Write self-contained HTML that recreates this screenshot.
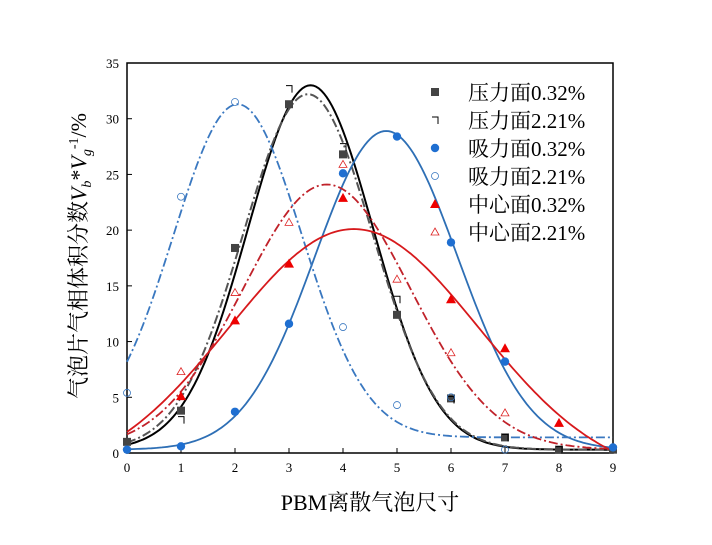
<!DOCTYPE html>
<html><head><meta charset="utf-8"><style>
body{margin:0;background:#fff;}
svg{display:block;font-family:"Liberation Serif","Noto Serif CJK SC",serif;}
</style></head><body>
<svg id="c" width="712" height="545"></svg>
<script>
const xTicks=[0,1,2,3,4,5,6,7,8,9];
const yTicks=[0,5,10,15,20,25,30,35];
const seriesNames=["压力面0.32%","压力面2.21%","吸力面0.32%","吸力面2.21%","中心面0.32%","中心面2.21%"];
const pX=[0,1,2,3,4,5,6,7,8,9];
const p032=[1.0,3.8,18.4,31.3,26.8,12.4,4.9,1.4,0.3,0.3];
const p221=[null,3.0,null,32.7,27.5,13.8,4.8,1.4,0.3,null];
const s032=[0.3,0.6,3.7,11.6,25.1,28.4,18.9,8.2,null,0.5];
const s221=[5.4,23.0,31.5,null,11.3,4.3,5.0,0.3,null,null];
const c032=[null,5.1,11.9,17.0,22.9,null,13.8,9.4,2.7,null];
const c221=[null,7.3,14.4,20.7,25.9,15.6,9.0,3.6,null,null];
// fit params: baseline, amplitude, center, width
const fitP032=[0.3,32.7,3.4,1.16];
const fitP221=[0.3,31.9,3.35,1.2];
const fitS032=[0.3,28.6,4.8,1.32];
const fitS221=[1.4,29.9,2.05,1.19];
const fitC032=[-2.5,22.6,4.2,2.32];
const fitC221=[0.3,23.8,3.7,1.55];

const NS="http://www.w3.org/2000/svg";
const svg=document.getElementById('c');
const L=127,R=613,T=63,B=453;
const xs=v=>L+(v-0)/9*(R-L);
const ys=v=>B-(v/35)*(B-T);
function el(t,a,p){const e=document.createElementNS(NS,t);for(const k in a)e.setAttribute(k,a[k]);(p||svg).appendChild(e);return e;}

const frame=el('rect',{x:L,y:T,width:R-L,height:B-T,fill:'none',stroke:'#000','stroke-width':1.5});



xTicks.forEach(t=>{
  const ln=el('line',{x1:xs(t),x2:xs(t),y1:B,y2:B-5,stroke:'#000'});
  
  
  const tx=el('text',{x:xs(t),y:B+19,'text-anchor':'middle','font-size':13});
  tx.textContent=t;
  
  
});
yTicks.forEach(t=>{
  const ln=el('line',{x1:L,x2:L+5,y1:ys(t),y2:ys(t),stroke:'#000'});
  
  
  const tx=el('text',{x:L-8,y:ys(t)+5,'text-anchor':'end','font-size':13});
  tx.textContent=t;
  
  
});

const fits=[[fitP032,'#000','none',2],[fitP221,'#555','9,3,2,3',2],[fitS032,'#2e6fb5','none',1.8],[fitS221,'#3a78c0','9,3,2,3',1.8],[fitC032,'#d7191c','none',1.8],[fitC221,'#c0222a','9,3,2,3',1.8]];
const fitNames=['fit-pressure-032','fit-pressure-221','fit-suction-032','fit-suction-221','fit-center-032','fit-center-221'];
fits.forEach((f,i)=>{
  const [b,a,c,w]=f[0];let d='';
  for(let x=0;x<=9.0001;x+=0.05){const y=b+a*Math.exp(-Math.pow((x-c)/w,2)/2);d+=(d?'L':'M')+xs(x).toFixed(1)+','+ys(Math.max(y,0)).toFixed(1);}
  const p=el('path',{d:d,fill:'none',stroke:f[1],'stroke-width':f[3],'stroke-dasharray':f[2]});
  
  
});

function marker(type,x,y,g){
  if(type==0)return el('rect',{x:x-4,y:y-4,width:8,height:8,fill:'#444'},g);
  if(type==1)return el('path',{d:`M${x-3},${y-3}L${x+3},${y-3}L${x+3},${y+4}`,fill:'none',stroke:'#000','stroke-width':1},g);
  if(type==2)return el('circle',{cx:x,cy:y,r:4.2,fill:'#1f6fd1'},g);
  if(type==3)return el('circle',{cx:x,cy:y,r:3.5,fill:'none',stroke:'#3a78c0','stroke-width':0.8},g);
  if(type==4)return el('path',{d:`M${x},${y-5}L${x+5},${y+4}L${x-5},${y+4}Z`,fill:'#e00'},g);
  return el('path',{d:`M${x},${y-4}L${x+4},${y+3}L${x-4},${y+3}Z`,fill:'none',stroke:'#d22','stroke-width':0.8},g);
}
const allSeries=[p032,p221,s032,s221,c032,c221];
allSeries.forEach((s,i)=>{
  const g=el('g',{});
  
  
  s.forEach((v,j)=>{if(v==null)return;const m=marker(i,xs(pX[j]),ys(v),g);
    
    });
});

seriesNames.forEach((n,i)=>{
  const y=92+i*28;
  const g=el('g',{});
  
  
  marker(i,435,y,g);
  const t=el('text',{x:468,y:y+8,'font-size':21},g);t.textContent=n;
});

const xt=el('text',{x:370,y:510,'text-anchor':'middle','font-size':22});
xt.textContent='PBM离散气泡尺寸';


const yt=el('text',{x:0,y:0,'text-anchor':'middle','font-size':22,transform:'translate(86,256) rotate(-90)'});
yt.innerHTML='气泡片气相体积分数<tspan font-style="italic">V</tspan><tspan font-size="14" dy="5" font-style="italic">b</tspan><tspan dy="-5">*</tspan><tspan font-style="italic">V</tspan><tspan font-size="14" dy="5" font-style="italic">g</tspan><tspan font-size="14" dy="-13">-1</tspan><tspan dy="8">/%</tspan>';


</script>
</body></html>
